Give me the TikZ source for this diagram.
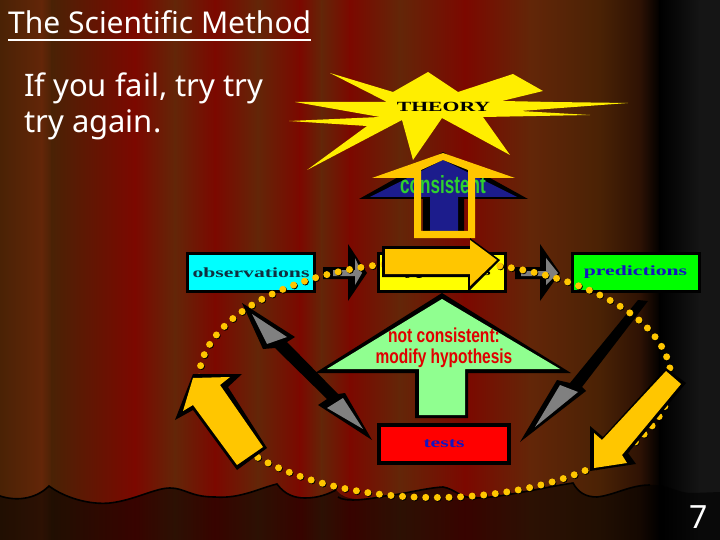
\documentclass[tikz,border=0pt]{standalone}
\usepackage{fontspec}
\setmainfont{Noto Sans}
\newfontfamily\serifwide{Liberation Serif}
\newfontfamily\sansnarrow{Liberation Sans}
\usepackage{tikz}
\usetikzlibrary{positioning}

\definecolor{cbrown}{HTML}{632608}
\definecolor{cred}{HTML}{7C0800}
\definecolor{cedge}{HTML}{4A2205}
\definecolor{cdark}{HTML}{2E1204}
\definecolor{ccurtain}{HTML}{151515}
\definecolor{cstar}{HTML}{FFEE00}
\definecolor{corange}{HTML}{FFC600}
\definecolor{cblue}{HTML}{1C1C8C}
\definecolor{cmint}{HTML}{90FF90}
\definecolor{boxcyan}{HTML}{00FFFF}
\definecolor{boxyellow}{HTML}{FFFF00}
\definecolor{boxgreen}{HTML}{00FF00}
\definecolor{boxred}{HTML}{FF0000}
\definecolor{txtgreen}{HTML}{2FD02F}
\definecolor{txtred}{HTML}{E00000}
\definecolor{txtblue}{HTML}{1414C0}
\definecolor{txtteal}{HTML}{103040}

\newcommand{\widelabel}[1]{\scalebox{1.55}[1]{\serifwide\bfseries #1}}
\newcommand{\narrowlabel}[2]{\scalebox{#1}[1.55]{\sansnarrow\bfseries #2}}

\tikzset{
  labelbox/.style={draw=black, line width=3pt, inner sep=0pt, minimum height=38pt, font=\fontsize{14}{16}\selectfont},
  slide/.style={text=white, inner sep=0pt, anchor=base west},
  outline/.style={fill=black, draw=none},
  grey/.style={fill=gray, draw=none},
  orange/.style={fill=corange, draw=none},
  dots/.style={line width=7pt, line cap=round, dash pattern=on 0pt off 11.62pt},
}

\begin{document}
\begin{tikzpicture}[x=1pt,y=-1pt]
\useasboundingbox (0,0) rectangle (720,540);

% Curtain
\foreach \xa/\ca/\xb/\cb in {0/cedge/42/cbrown, 42/cbrown/52/cedge, 52/cedge/135/cred, 135/cred/175/cbrown,
  175/cbrown/215/cred, 215/cred/258/cbrown, 258/cbrown/300/cred, 300/cred/322/cbrown, 322/cbrown/350/cred,
  350/cred/400/cbrown, 400/cbrown/465/cred, 465/cred/530/cbrown, 530/cbrown/600/cedge, 600/cedge/640/cdark,
  640/cdark/660/black, 660/black/700/ccurtain, 700/ccurtain/720/ccurtain}
  \shade[left color=\ca, right color=\cb] (\xa-0.5,-1) rectangle (\xb+0.5,541);

% Hem
\fill[black, opacity=0.55] (0,496) .. controls (15,501) and (35,500) .. (49,486)
  .. controls (65,498) and (90,505) .. (110,503) .. controls (135,500) and (155,488) .. (170,488)
  .. controls (185,488) and (190,497) .. (215,497) .. controls (240,499) and (260,488) .. (277,484)
  .. controls (285,495) and (295,498) .. (305,498) .. controls (320,498) and (330,493) .. (336,490)
  .. controls (345,502) and (365,500) .. (385,496) .. controls (405,494) and (425,488) .. (443,487)
  .. controls (455,489) and (460,498) .. (475,498) .. controls (500,498) and (540,488) .. (573,483)
  .. controls (578,492) and (585,497) .. (597,497) .. controls (615,495) and (630,485) .. (650,485)
  .. controls (670,484) and (675,493) .. (693,493) -- (720,492) -- (720,540) -- (0,540) -- cycle;
\draw[black, line width=1.6pt] (0,496) .. controls (15,501) and (35,500) .. (49,486)
  .. controls (65,498) and (90,505) .. (110,503) .. controls (135,500) and (155,488) .. (170,488)
  .. controls (185,488) and (190,497) .. (215,497) .. controls (240,499) and (260,488) .. (277,484)
  .. controls (285,495) and (295,498) .. (305,498) .. controls (320,498) and (330,493) .. (336,490)
  (338,497) .. controls (345,502) and (365,500) .. (385,496) .. controls (405,494) and (425,488) .. (443,487)
  .. controls (455,489) and (460,498) .. (475,498) .. controls (500,498) and (540,488) .. (573,483)
  .. controls (578,492) and (585,497) .. (597,497) .. controls (615,495) and (630,485) .. (650,485);

% Slide text
\node[slide, font=\fontsize{30}{32}\selectfont] (title) at (8,34) {The Scientific Method};
\draw[white, line width=1.6pt] ([yshift=-6pt]title.base west) -- ([yshift=-6pt]title.base east);
\node[slide, font=\fontsize{31}{36}\selectfont] (lineone) at (24,97) {If you fail, try try};
\node[slide, font=\fontsize{31}{36}\selectfont] (linetwo) at (24,133) {try again.};
\node[slide, font=\fontsize{32}{34}\selectfont] (page) at (689,528) {7};

% Theory
\fill[cstar] (330,73) -- (393,92) -- (428,72) -- (458,92) -- (513,74) -- (543,91) -- (502,101) -- (553,102)
  -- (628,103) -- (520,111) -- (590,115) -- (483,117) -- (510,155) -- (442,118) -- (413,160) -- (402,120)
  -- (307,170) -- (367,126) -- (289,121) -- (380,117) -- (295,102) -- (387,102) -- cycle;
\node[font=\fontsize{14}{16}\selectfont] (theory) at (443.5,107) {\widelabel{THEORY}};

% Consistent arrow
\fill[outline] (443,152) -- (528,199) -- (464,199) -- (464,231) -- (423,231) -- (423,199) -- (359,199) -- cycle;
\fill[cblue] (443,160) -- (517,197) -- (458,197) -- (458,231) -- (430,231) -- (430,197) -- (370,197) -- cycle;
\node[text=txtgreen, font=\fontsize{16}{18}\selectfont] (consistent) at (443,185) {\narrowlabel{1.07}{consistent}};
\fill[orange, even odd rule] (443,153) -- (515,178) -- (475,178) -- (475,238) -- (414,238) -- (414,178) -- (372,178) -- cycle
  (443,160) -- (468,170) -- (468,231) -- (421,231) -- (421,170) -- cycle;

% Boxes
\node[labelbox, fill=boxcyan, text=txtteal, minimum width=127pt] (observations) at (251,272.5) {\widelabel{observations}};
\node[labelbox, fill=boxyellow, minimum width=127pt] (hypothesis) at (442,272.5) {\widelabel{hypothesis}};
\node[labelbox, fill=boxgreen, text=txtblue, minimum width=127pt] (predictions) at (635.5,272.5) {\widelabel{predictions}};
\node[labelbox, fill=boxred, text=txtblue, line width=4pt, minimum width=130pt, minimum height=38pt] (tests) at (444,444) {\widelabel{tests}};

% Grey arrows
\fill[outline] (323,267) -- (348,267) -- (348,244) -- (367,273) -- (348,301) -- (348,279) -- (323,279) -- cycle;
\fill[grey] (333,270) -- (355,270) -- (355,258) -- (362,273) -- (355,285) -- (355,276) -- (333,276) -- cycle;
\fill[outline] (515,267) -- (540,267) -- (540,244) -- (560,273) -- (540,301) -- (540,279) -- (515,279) -- cycle;
\fill[grey] (521,271) -- (546,271) -- (546,258) -- (558,273) -- (546,285) -- (546,276) -- (521,276) -- cycle;
\fill[outline] (242,303) -- (295,337) -- (287,342) -- (338,394) -- (345,393) -- (372,440) -- (318,405) -- (327,399)
  -- (275,348) -- (263,349) -- cycle;
\fill[grey] (252,314) -- (287,337) -- (267,344) -- cycle;
\fill[grey] (363,429) -- (343,398) -- (327,408) -- cycle;
\fill[outline] (638,300) -- (648,301) -- (582,387) -- (586,391) -- (520,442) -- (557,380) -- (570,383) -- cycle;
\fill[grey] (535,427) -- (560,385) -- (578,392) -- cycle;

% Modify arrow
\fill[outline] (442,293) -- (571,373) -- (468,373) -- (468,418) -- (415,418) -- (415,373) -- (315,373) -- cycle;
\fill[cmint] (442,299) -- (560,369) -- (465,369) -- (465,415) -- (419,415) -- (419,369) -- (327,369) -- cycle;
\node[text=txtred, font=\fontsize{13}{15}\selectfont] (notconsistent) at (444,335) {\narrowlabel{1.2}{not consistent:}};
\node[text=txtred, font=\fontsize{13}{15}\selectfont] (modify) at (444,358) {\narrowlabel{1.19}{modify hypothesis}};

% Dotted ring
\draw[black, dots] (435.8,380.3) ellipse [x radius=236pt, y radius=118pt];
\draw[corange, dots] (435,379.5) ellipse [x radius=236pt, y radius=118pt];

% Yellow arrows
\fill[outline] (193,374) -- (242,374) -- (228,387) -- (267,448) -- (237,470) -- (193,410) -- (175,420) -- cycle;
\fill[orange] (193,378) -- (230,377) -- (220,385) -- (263,447) -- (237,465) -- (193,405) -- (183,411) -- cycle;
\fill[outline] (666,368) -- (686,383) -- (628,453) -- (636,464) -- (590,471) -- (590,426) -- (603,437) -- cycle;
\fill[orange] (666,371) -- (681,384) -- (622,455) -- (627,463) -- (594,468) -- (594,433) -- (602,440) -- cycle;
\fill[outline] (382,246) -- (470,246) -- (470,238) -- (500,260) -- (468,292) -- (468,277) -- (382,277) -- cycle;
\fill[orange] (385,249) -- (470,249) -- (470,240) -- (497,260) -- (470,286) -- (470,274) -- (385,274) -- cycle;

\end{tikzpicture}
\end{document}
